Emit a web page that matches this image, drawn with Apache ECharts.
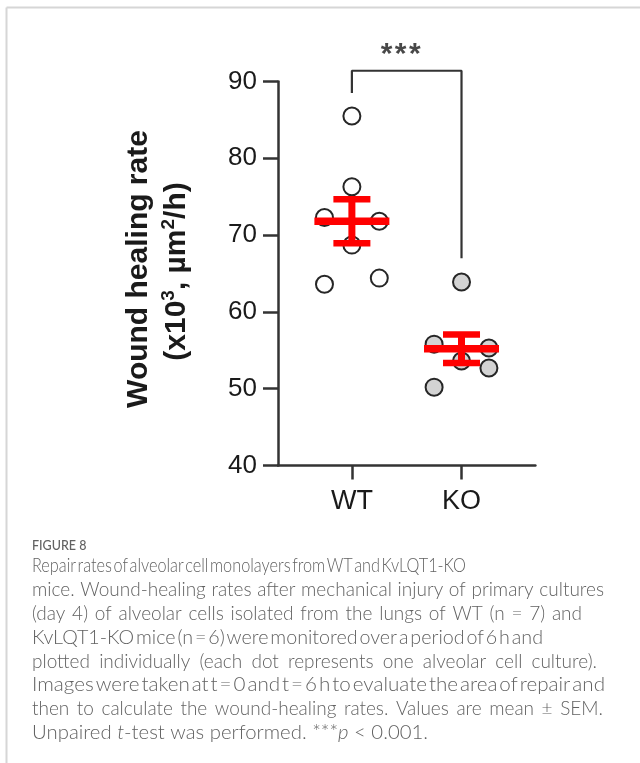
<!DOCTYPE html>
<html>
<head>
<meta charset="utf-8">
<script src="https://cdn.jsdelivr.net/npm/echarts@6/dist/echarts.min.js"></script>
<style>
  html, body { margin: 0; padding: 0; background: #ffffff; }
  #chart { width: 640px; height: 763px; }
</style>
</head>
<body>
<div id="chart"></div>
<script>
// Groups on the x axis (plotted at positions 1 and 2)
const groups = ['WT', 'KO'];

// Individual wound-healing rates (x10^3 µm²/h), one per alveolar cell culture
const wtValues = [85.5, 76.3, 72.3, 71.8, 68.7, 63.6, 64.4];
const koValues = [63.9, 55.8, 55.3, 53.6, 52.7, 50.2];

// Horizontal scatter of the dots around each group centre
const wtJitter = [0, 0, -0.25, 0.25, 0, -0.25, 0.25];
const koJitter = [0, -0.25, 0.25, 0, 0.25, -0.25];

// Mean ± SEM per group
const meanValues = [71.8, 55.2];
const semValues = [2.87, 1.85];

// Y axis ticks
const yTicks = [40, 50, 60, 70, 80, 90];

// Significance bracket: left leg bottom, bracket top, right leg bottom
const bracketY = [88.5, 91.4, 67.0];
const sigLabel = '*\u200a*\u200a*';

const captionTitle = 'FIGURE 8';
// Caption lines as rich-text segments: [text, italic?]
const captionLines = [
  [['Repair rates of alveolar cell monolayers from WT and KvLQT1-KO', false]],
  [['mice. Wound-healing rates after mechanical injury of primary cultures', false]],
  [['(day 4) of alveolar cells isolated from the lungs of WT (n = 7) and', false]],
  [['KvLQT1-KO mice (n = 6) were monitored over a period of 6 h and', false]],
  [['plotted individually (each dot represents one alveolar cell culture).', false]],
  [['Images were taken at t = 0 and t = 6 h to evaluate the area of repair and', false]],
  [['then to calculate the wound-healing rates. Values are mean \u00b1 SEM.', false]],
  [['Unpaired ', false], ['t', true], ['-test was performed. ***', false], ['p', true], [' < 0.001.', false]]
];
// Right edge of each typeset (justified) caption line
const captionLineEnds = [466, 604, 582, 543, 597, 605, 603, 428];

const wtData = wtValues.map((v, i) => [1 + wtJitter[i], v]);
const koData = koValues.map((v, i) => [2 + koJitter[i], v]);
const errData = meanValues.map((m, i) => [i + 1, m, semValues[i]]);
const bracketData = [[1, bracketY[0]], [1, bracketY[1]], [2, bracketY[1]], [2, bracketY[2]]];

const axisColor = '#333333';
const red = '#ff0000';
const captionColor = '#626262';
const captionSize = 19;
const captionLeft = 32;

// Measure caption words so each line can be justified to its typeset width
const measureCtx = document.createElement('canvas').getContext('2d');
function segWidth(text, italic) {
  measureCtx.font = (italic ? 'italic ' : '') + '300 ' + captionSize + 'px Lato';
  return measureCtx.measureText(text).width;
}
function esc(s) { return s.replace(/[{}|]/g, ''); }
function splitWords(segs) {
  const words = [[]];
  segs.forEach(([t, it]) => {
    t.split(' ').forEach((part, k) => {
      if (k > 0) words.push([]);
      if (part) words[words.length - 1].push([part, it]);
    });
  });
  return words.filter(w => w.length);
}
const captionRich = {
  i: { fill: captionColor, fontFamily: 'Lato', fontSize: captionSize, fontWeight: 300 },
  it: { fill: captionColor, fontFamily: 'Lato', fontSize: captionSize, fontWeight: 300, fontStyle: 'italic' }
};

const chart = echarts.init(document.getElementById('chart'), null, { renderer: 'canvas' });

const captionGraphics = [{
  type: 'text', left: captionLeft, top: 539,
  style: { text: captionTitle, fill: captionColor, font: '500 12.5px Lato, sans-serif' }
}];
const spaceW = segWidth(' ', false);
captionLines.forEach((segs, i) => {
  const words = splitWords(segs);
  const widths = words.map(w => w.reduce((a, s) => a + segWidth(s[0], s[1]), 0));
  const wordsW = widths.reduce((a, b) => a + b, 0);
  const target = captionLineEnds[i] - captionLeft;
  const gaps = words.length - 1;
  const isLast = i === captionLines.length - 1;
  let gap = spaceW, scale = 1;
  if (isLast) {
    // final line keeps normal word spacing
    scale = target / (wordsW + gaps * spaceW);
  } else if (wordsW + gaps * spaceW > target) {
    // tight line: close up word spaces first, then condense
    gap = spaceW * 0.35;
    scale = target / (wordsW + gaps * gap);
  } else {
    gap = (target - wordsW) / gaps;
  }
  let pos = 0;
  const children = words.map((w, k) => {
    const el = {
      type: 'text', x: pos, y: 0,
      style: {
        text: w.map(s => '{' + (s[1] ? 'it' : 'i') + '|' + esc(s[0]) + '}').join(''),
        textVerticalAlign: 'middle',
        rich: captionRich
      }
    };
    pos += widths[k] + gap;
    return el;
  });
  captionGraphics.push({
    type: 'group', x: captionLeft, y: 566 + i * 23.86, scaleX: scale,
    children: children
  });
});

chart.setOption({
  animation: false,
  backgroundColor: '#ffffff',
  grid: { left: 278, top: 81.5, width: 257.4, height: 384, outerBoundsMode: 'none' },
  xAxis: {
    type: 'value',
    min: 1 - 0.674,
    max: 2 + 0.674,
    splitLine: { show: false },
    axisLine: { show: true, lineStyle: { color: axisColor, width: 2.5 } },
    axisTick: { show: true, customValues: [1, 2], length: 14, lineStyle: { color: axisColor, width: 2.5 } },
    axisLabel: {
      customValues: [1, 2],
      formatter: v => groups[Math.round(v) - 1],
      margin: 23,
      color: '#1a1a1a',
      fontFamily: '"Liberation Sans", Arial, sans-serif',
      fontSize: 27
    }
  },
  yAxis: {
    type: 'value',
    min: yTicks[0],
    max: yTicks[yTicks.length - 1],
    interval: 10,
    splitLine: { show: false },
    axisLine: { show: true, lineStyle: { color: axisColor, width: 2.5 } },
    axisTick: { show: true, length: 15, lineStyle: { color: axisColor, width: 2.5 } },
    axisLabel: {
      margin: 21,
      color: '#1a1a1a',
      fontFamily: '"Liberation Sans", Arial, sans-serif',
      fontSize: 26
    }
  },
  graphic: [
    // figure frame
    { type: 'line', shape: { x1: 6.5, y1: 7.5, x2: 640, y2: 7.5 }, style: { stroke: '#d6d6d6', lineWidth: 2 } },
    { type: 'line', shape: { x1: 6.5, y1: 7.5, x2: 6.5, y2: 763 }, style: { stroke: '#d6d6d6', lineWidth: 2 } },
    // y axis title
    {
      type: 'text', x: 138.5, y: 269, rotation: Math.PI / 2,
      style: {
        text: 'Wound healing rate', textAlign: 'center', textVerticalAlign: 'middle',
        fill: '#1a1a1a', font: 'bold 30px "Liberation Sans", Arial, sans-serif'
      }
    },
    {
      type: 'text', x: 176.5, y: 271.5, rotation: Math.PI / 2,
      style: {
        text: '{a|(x10}{s|3}{a|, \u00b5m}{s|2}{a|/h)}',
        textAlign: 'center', textVerticalAlign: 'middle',
        rich: {
          a: { fill: '#1a1a1a', fontFamily: '"Liberation Sans", Arial, sans-serif', fontWeight: 'bold', fontSize: 30, lineHeight: 34 },
          s: { fill: '#1a1a1a', fontFamily: '"Liberation Sans", Arial, sans-serif', fontWeight: 'bold', fontSize: 19, verticalAlign: 'top' }
        }
      }
    }
  ].concat(captionGraphics),
  series: [
    {
      type: 'line',
      data: bracketData,
      showSymbol: false,
      symbol: 'none',
      clip: false,
      lineStyle: { color: axisColor, width: 2.2 },
      z: 1
    },
    {
      type: 'scatter',
      data: [[1.5, bracketY[1]]],
      symbolSize: 0,
      clip: false,
      label: {
        show: true, position: 'inside', offset: [-6, -16],
        formatter: sigLabel, color: '#1a1a1a',
        fontFamily: '"Liberation Sans", Arial, sans-serif', fontWeight: 'bold', fontSize: 30
      },
      z: 1
    },
    {
      type: 'scatter',
      data: wtData,
      symbol: 'circle',
      symbolSize: 17,
      itemStyle: { color: '#ffffff', borderColor: '#262626', borderWidth: 2, opacity: 1 },
      z: 2
    },
    {
      type: 'scatter',
      data: koData,
      symbol: 'circle',
      symbolSize: 17,
      itemStyle: { color: '#d3d3d3', borderColor: '#262626', borderWidth: 2, opacity: 1 },
      z: 2
    },
    {
      type: 'custom',
      data: errData,
      z: 3,
      renderItem: (params, api) => {
        const x = api.value(0), m = api.value(1), s = api.value(2);
        const c = api.coord([x, m]);
        const top = api.coord([x, m + s]);
        const bot = api.coord([x, m - s]);
        const meanHalf = 37.5, capHalf = 18.5;
        const st = w => ({ stroke: red, lineWidth: w, lineCap: 'butt' });
        return {
          type: 'group',
          children: [
            { type: 'line', shape: { x1: c[0], y1: top[1], x2: c[0], y2: bot[1] }, style: st(7) },
            { type: 'line', shape: { x1: c[0] - capHalf, y1: top[1], x2: c[0] + capHalf, y2: top[1] }, style: st(6.5) },
            { type: 'line', shape: { x1: c[0] - capHalf, y1: bot[1], x2: c[0] + capHalf, y2: bot[1] }, style: st(6.5) },
            { type: 'line', shape: { x1: c[0] - meanHalf, y1: c[1], x2: c[0] + meanHalf, y2: c[1] }, style: st(7.5) }
          ]
        };
      }
    }
  ]
});
</script>
</body>
</html>
